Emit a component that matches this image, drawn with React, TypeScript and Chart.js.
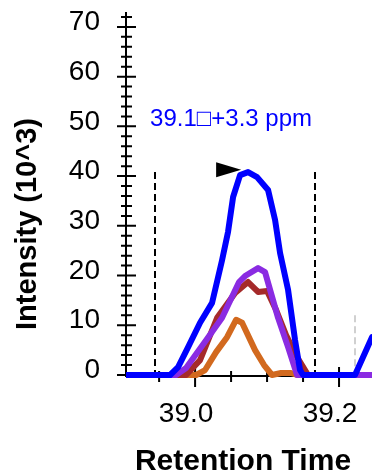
import React, { useEffect, useRef } from 'react';
import { Chart, registerables } from 'chart.js';

Chart.register(...registerables);

const FONT = '"Liberation Sans", Arial, Helvetica, sans-serif';

// Axis ranges and ticks
const xMin = 38.904;
const xMax = 39.2458;
const yMin = 0;
const yMax = 73;
const yTickValues = [0, 10, 20, 30, 40, 50, 60, 70];
const yMinorValues = [2, 4, 6, 8, 12, 14, 16, 18, 22, 24, 26, 28, 32, 34, 36, 38, 42, 44, 46, 48, 52, 54, 56, 58, 62, 64, 66, 68, 72];
const xTickValues = [39.0, 39.2];
const xTickLabels = ['39.0', '39.2'];
const xMinorValues = [38.95, 39.05, 39.1, 39.15];

const xTitle = 'Retention Time';
const yTitle = 'Intensity (10^3)';

// Series (retention time, intensity in 10^3)
const blueRT = [38.88, 38.9653, 38.9764, 38.9903, 39.0069, 39.0236, 39.0375, 39.0458, 39.0528, 39.0625, 39.0736, 39.0861, 39.1014, 39.1111, 39.1181, 39.1292, 39.1389, 39.1458, 39.15, 39.2222, 39.2458, 39.27];
const blueInt = [0, 0, 1.6, 5.6, 10.5, 14.5, 23.1, 28.8, 35.8, 40.2, 40.8, 39.8, 37.2, 31.2, 24.5, 17.1, 7.0, 1.0, 0, 0, 7.6, 15];

const purpleRT = [38.88, 38.9736, 38.9875, 39.0153, 39.0375, 39.0611, 39.0694, 39.0875, 39.0972, 39.1153, 39.1292, 39.1417, 39.27];
const purpleInt = [0, 0, 1.4, 7.0, 11.5, 18.7, 19.9, 21.5, 20.7, 11.5, 5.6, 0, 0];

const redRT = [38.88, 38.9875, 39.0069, 39.0306, 39.0556, 39.0736, 39.0875, 39.1, 39.1125, 39.1264, 39.1417, 39.1569, 39.27];
const redInt = [0, 0, 3.0, 11.5, 16.5, 18.7, 16.7, 16.9, 13.1, 8.0, 3.6, 0, 0];

const orangeRT = [38.88, 39.0014, 39.0139, 39.0292, 39.0444, 39.0569, 39.0653, 39.0833, 39.0958, 39.1069, 39.1194, 39.1333, 39.1417, 39.27];
const orangeInt = [0, 0, 1.0, 4.6, 7.6, 11.1, 10.5, 5.0, 2.0, 0, 0.4, 0.4, 0, 0];

// Annotations
const boundaryRT = [38.944, 39.167];
const boundaryTop = 40.8;
const grayRT = 39.222;
const grayTop = 12;
const markerRT = 39.064;
const markerInt = 41.3;
const annotationText = '39.1\u25A1+3.3 ppm';
const annotationRT = 38.9375;
const annotationInt = 50.1;

const toPoints = (xs: number[], ys: number[]) => xs.map((x, i) => ({ x, y: ys[i] }));

const customPlugin = {
  id: 'customDraw',
  beforeDatasetsDraw(chart: any) {
    const { ctx, chartArea, scales } = chart;
    const xs = scales.x;
    const ys = scales.y;
    const axisX = chartArea.left;
    const axisY = ys.getPixelForValue(0) + 1;
    ctx.save();
    ctx.strokeStyle = '#000';
    ctx.lineWidth = 2;
    ctx.beginPath();
    ctx.moveTo(axisX, chartArea.top);
    ctx.lineTo(axisX, axisY);
    ctx.moveTo(axisX - 1, axisY);
    ctx.lineTo(chartArea.right, axisY);
    ctx.stroke();
    ctx.beginPath();
    yTickValues.forEach((v) => {
      const p = ys.getPixelForValue(v);
      ctx.moveTo(axisX - 9, p);
      ctx.lineTo(axisX + 10, p);
    });
    yMinorValues.forEach((v) => {
      const p = ys.getPixelForValue(v);
      ctx.moveTo(axisX - 5, p);
      ctx.lineTo(axisX + 6, p);
    });
    xTickValues.forEach((v) => {
      const p = xs.getPixelForValue(v);
      ctx.moveTo(p, axisY - 9);
      ctx.lineTo(p, axisY + 11);
    });
    xMinorValues.forEach((v) => {
      const p = xs.getPixelForValue(v);
      ctx.moveTo(p, axisY - 5);
      ctx.lineTo(p, axisY + 6);
    });
    ctx.stroke();
    ctx.setLineDash([7, 4]);
    ctx.lineWidth = 2;
    ctx.beginPath();
    boundaryRT.forEach((v) => {
      const p = Math.round(xs.getPixelForValue(v));
      ctx.moveTo(p, ys.getPixelForValue(boundaryTop));
      ctx.lineTo(p, ys.getPixelForValue(0));
    });
    ctx.stroke();
    ctx.strokeStyle = '#d0d0d0';
    ctx.beginPath();
    const gp = Math.round(xs.getPixelForValue(grayRT));
    ctx.moveTo(gp, ys.getPixelForValue(grayTop));
    ctx.lineTo(gp, ys.getPixelForValue(0));
    ctx.stroke();
    ctx.restore();
  },
  afterDatasetsDraw(chart: any) {
    const { ctx, scales } = chart;
    const xs = scales.x;
    const ys = scales.y;
    ctx.save();
    const tx = xs.getPixelForValue(markerRT);
    const ty = ys.getPixelForValue(markerInt);
    ctx.fillStyle = '#000';
    ctx.beginPath();
    ctx.moveTo(tx, ty);
    ctx.lineTo(tx - 25, ty - 7.5);
    ctx.lineTo(tx - 25, ty + 7.5);
    ctx.closePath();
    ctx.fill();
    ctx.fillStyle = '#0000ff';
    ctx.font = `24px ${FONT}`;
    ctx.textAlign = 'left';
    ctx.textBaseline = 'alphabetic';
    ctx.fillText(annotationText, xs.getPixelForValue(annotationRT), ys.getPixelForValue(annotationInt));
    ctx.restore();
  },
  afterDraw(chart: any) {
    const { ctx } = chart;
    ctx.save();
    ctx.fillStyle = '#000';
    ctx.font = `bold 30px ${FONT}`;
    ctx.textAlign = 'center';
    ctx.textBaseline = 'alphabetic';
    ctx.fillText(xTitle, 243, 470);
    ctx.translate(36, 224);
    ctx.rotate(-Math.PI / 2);
    ctx.font = `bold 29px ${FONT}`;
    ctx.fillText(yTitle, 0, 0);
    ctx.restore();
  },
};

export default function App() {
  const ref = useRef<HTMLCanvasElement | null>(null);
  useEffect(() => {
    if (!ref.current) return;
    const lineDs = (label: string, xsArr: number[], ysArr: number[], color: string) => ({
      label,
      data: toPoints(xsArr, ysArr),
      borderColor: color,
      backgroundColor: color,
      borderWidth: 6,
      pointRadius: 0,
      tension: 0,
      fill: false,
      borderJoinStyle: 'round' as const,
      borderCapStyle: 'round' as const,
      clip: { left: 0, top: 0, right: 0, bottom: 5 },
    });
    const chart = new Chart(ref.current, {
      type: 'line',
      data: {
        datasets: [
          lineDs('blue', blueRT, blueInt, '#0000ff'),
          lineDs('purple', purpleRT, purpleInt, '#8a2be2'),
          lineDs('red', redRT, redInt, '#a52a2a'),
          lineDs('orange', orangeRT, orangeInt, '#d2691e'),
        ],
      },
      options: {
        animation: false,
        responsive: false,
        devicePixelRatio: 1,
        layout: { padding: { top: 12, left: 0, right: 0, bottom: 0 } },
        plugins: { legend: { display: false }, tooltip: { enabled: false } },
        scales: {
          x: {
            type: 'linear',
            min: xMin,
            max: xMax,
            grid: { display: false, drawTicks: false },
            border: { display: false },
            ticks: {
              color: '#000',
              font: { family: FONT, size: 28 },
              padding: 22,
              labelOffset: -9,
              maxRotation: 0,
              autoSkip: false,
              callback: (v: any) => {
                const i = xTickValues.findIndex((t) => Math.abs(t - Number(v)) < 1e-6);
                return i >= 0 ? xTickLabels[i] : '';
              },
            },
            afterBuildTicks: (s: any) => {
              s.ticks = xTickValues.map((v) => ({ value: v }));
            },
            afterFit: (s: any) => {
              s.height = 98;
              s.paddingLeft = 0;
              s.paddingRight = 0;
            },
          },
          y: {
            type: 'linear',
            min: yMin,
            max: yMax,
            grid: { display: false, drawTicks: false },
            border: { display: false },
            ticks: {
              color: '#000',
              font: { family: FONT, size: 28 },
              padding: 26,
              labelOffset: -4.5,
              autoSkip: false,
            },
            afterBuildTicks: (s: any) => {
              s.ticks = yTickValues.map((v) => ({ value: v }));
            },
            afterFit: (s: any) => {
              s.width = 126;
              s.paddingTop = 0;
              s.paddingBottom = 0;
            },
          },
        },
      },
      plugins: [customPlugin],
    });
    return () => chart.destroy();
  }, []);
  return (
    <div style={{ position: 'absolute', left: 0, top: 0, width: 372, height: 473, background: '#fff' }}>
      <canvas ref={ref} width={372} height={473} style={{ display: 'block', width: 372, height: 473 }} />
    </div>
  );
}
